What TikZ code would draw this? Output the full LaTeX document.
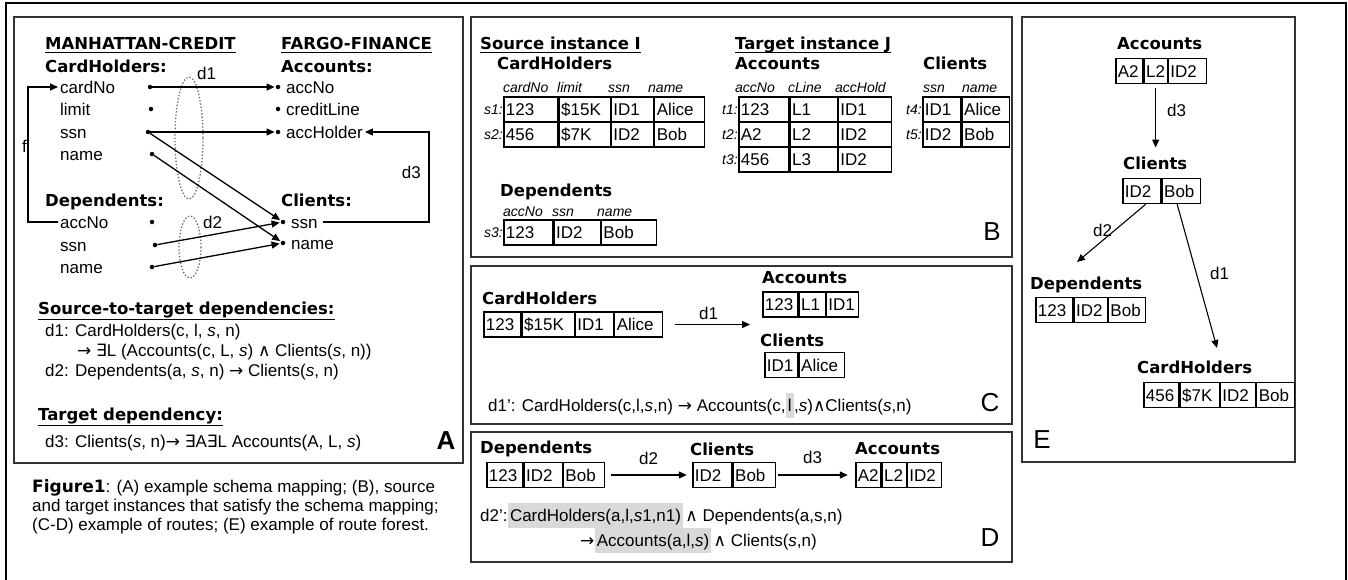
\documentclass[tikz,border=0pt]{standalone}
\usepackage{fontspec}
\setmainfont{Liberation Sans}
\newfontfamily\hdfam{DejaVu Sans}
\newfontfamily\symfam{DejaVu Sans}
\usetikzlibrary{arrows.meta,calc}
\newcommand{\ftx}{\fontsize{17}{20}\selectfont}
\newcommand{\fhd}{\hdfam\bfseries\fontsize{16.5}{20}\selectfont}
\newcommand{\fith}{\itshape\fontsize{14}{16}\selectfont}
\newcommand{\flab}{\fontsize{26}{30}\selectfont}
\newcommand{\sy}[1]{{\symfam #1}}
\newcommand{\cellrow}[3]{%
  \node[inner sep=0pt, minimum size=0pt] (#1-0) at #2 {};
  \foreach \cw/\ct [count=\ci] in {#3}{%
    \pgfmathtruncatemacro{\cj}{\ci-1}%
    \pgfmathsetmacro{\ctw}{\cw-4}%
    \node[cell, text width=\ctw pt, anchor=west] (#1-\ci) at (#1-\cj.east) {\ct};
  }%
}
\begin{document}
\begin{tikzpicture}[x=1pt,y=-1pt,
 tx/.style={font=\ftx, inner sep=0pt, anchor=west, text height=12pt, text depth=0pt},
 hd/.style={font=\fhd, inner sep=0pt, anchor=west, text height=12.5pt, text depth=0pt},
 ith/.style={font=\fith, inner sep=0pt, anchor=west, text height=10pt, text depth=0pt},
 cell/.style={draw, line width=1.3pt, minimum height=25pt, inner xsep=2pt, inner ysep=0pt, font=\ftx, align=left, text height=12pt, text depth=0pt},
 arr/.style={-{Triangle[length=8pt,width=7pt]}, line width=1.3pt},
 panel/.style={draw=black!80, line width=2pt},
 dot/.style={circle, fill, inner sep=0pt, minimum size=4.5pt},
 ul/.style={line width=1.4pt},
 hl/.style={fill=black!15, inner xsep=2pt, inner ysep=4pt, text height=14pt, text depth=3pt, font=\ftx},
 lab/.style={font=\flab, inner sep=0pt},
 ell/.style={dotted, line width=1.3pt, black!60}
]
\useasboundingbox (0,0) rectangle (1348,579);
\fill[white] (0,0) rectangle (1348,579);
\draw[line width=1.5pt] (6,3) rectangle (1346,640);
% panels
\draw[panel] (14,17) rectangle (463,463);
\draw[panel] (471,17) rectangle (1012,257);
\draw[panel] (471,266) rectangle (1012,424);
\draw[panel] (471,432) rectangle (1012,562);
\draw[panel] (1022,17) rectangle (1295,462);

% ---------------- Panel A ----------------
\node[hd] (mc) at (45,43) {MANHATTAN-CREDIT};
\node[hd] (ff) at (281,43) {FARGO-FINANCE};
\draw[ul] ([yshift=-3pt]mc.base west) -- ([yshift=-3pt]mc.base east);
\draw[ul] ([yshift=-3pt]ff.base west) -- ([yshift=-3pt]ff.base east);
\node[hd] (chA) at (45,66) {CardHolders:};
\node[hd] (acA) at (281,66) {Accounts:};
\node[tx] (cardno) at (60,87) {cardNo};
\node[tx] (limit) at (60,109) {limit};
\node[tx] (ssnA) at (60,132) {ssn};
\node[tx] (nameA) at (60,154) {name};
\node[dot] (dcard) at (150,87) {};
\node[dot] (dlimit) at (151,109) {};
\node[dot] (dssn) at (148,132) {};
\node[dot] (dname) at (152,154) {};
\node[dot] (daccno) at (278,87) {};
\node[dot] (dcredit) at (278,109) {};
\node[dot] (dacch) at (278,132) {};
\node[tx] (accno) at (286,87) {accNo};
\node[tx] (credit) at (286,109) {creditLine};
\node[tx] (acch) at (286,132) {accHolder};
\node[hd] (depA) at (45,200) {Dependents:};
\node[hd] (clA) at (281,200) {Clients:};
\node[tx] (daccT) at (60,222) {accNo};
\node[tx] (dssnT) at (60,245) {ssn};
\node[tx] (dnameT) at (60,267) {name};
\node[dot] (ddacc) at (152,222) {};
\node[dot] (ddssn) at (155,245) {};
\node[dot] (ddname) at (152,267) {};
\node[dot] (dcssn) at (283,222) {};
\node[dot] (dcname) at (283,243) {};
\node[tx] (cssn) at (291,222) {ssn};
\node[tx] (cname) at (291,243) {name};
\draw[ell] (189,138) ellipse [x radius=14, y radius=61];
\draw[ell] (190,247) ellipse [x radius=11, y radius=31];
\node[tx] (d1A) at (197,73) {d1};
\node[tx] (d2A) at (203,222) {d2};
\draw[arr, shorten >=1pt] (dcard) -- (daccno);
\draw[arr, shorten >=1pt] (dssn) -- (dacch);
\draw[arr, shorten >=1pt] (dssn) -- (dcssn);
\draw[arr, shorten >=1pt] (dname) -- (dcname);
\draw[arr, shorten >=1pt] (ddssn) -- (dcssn);
\draw[arr, shorten >=1pt] (ddname) -- (dcname);
\draw[arr, line width=1.2pt] ([xshift=-2pt]daccT.west) -- ++(-30,0) |- ([xshift=-2pt]cardno.west);
\node[tx, anchor=east] (fA) at (27,146) {f};
\coordinate (d3x) at (424,0);
\draw[arr, line width=1.2pt] ([xshift=5pt]cssn.east) -- ([xshift=5pt]cssn.east -| d3x) |- ([xshift=2pt]acch.east);
\node[tx, anchor=east] (d3A) at (421,172) {d3};
% dependencies
\node[hd] (stt) at (38,308) {Source-to-target dependencies:};
\draw[ul] ([yshift=-5pt]stt.base west) -- ([yshift=-5pt]stt.base east);
\node[tx] (fa1) at (45,330) {d1: CardHolders(c, l, \textit{s}, n)};
\node[tx] (fa2) at (77,350) {\sy{→} \sy{∃}L (Accounts(c, L, \textit{s}) \sy{∧} Clients(\textit{s}, n))};
\node[tx] (fa3) at (45,370) {d2: Dependents(a, \textit{s}, n) \sy{→} Clients(\textit{s}, n)};
\node[hd] (tdp) at (38,414) {Target dependency:};
\draw[ul] ([yshift=-5pt]tdp.base west) -- ([yshift=-5pt]tdp.base east);
\node[tx] (fa4) at (45,441) {d3: Clients(\textit{s}, n)\sy{→} \sy{∃}A\sy{∃}L Accounts(A, L, \textit{s})};
\node[lab, font=\flab\bfseries] (labA) at (446,441) {A};
% caption
\node[tx] (cap1) at (32,486) {{\hdfam\bfseries Figure1}: (A) example schema mapping; (B), source};
\node[tx] (cap2) at (32,505) {and target instances that satisfy the schema mapping;};
\node[tx] (cap3) at (32,524) {(C-D) example of routes; (E) example of route forest.};

% ---------------- Panel B ----------------
\node[hd] (sii) at (480,43) {Source instance I};
\draw[ul] ([yshift=-3pt]sii.base west) -- ([yshift=-3pt]sii.base east);
\node[hd] (chB) at (497,63) {CardHolders};
\node[ith] (hB1) at (503,87) {cardNo};
\node[ith] (hB2) at (557,87) {limit};
\node[ith] (hB3) at (608,87) {ssn};
\node[ith] (hB4) at (648,87) {name};
\cellrow{bc1}{(503,109.5)}{54/123,51/\$15K,42/ID1,50/Alice}
\cellrow{bc2}{(503,134.5)}{54/456,51/\$7K,42/ID2,50/Bob}
\node[ith, anchor=east] (s1) at (503,109.5) {s1:};
\node[ith, anchor=east] (s2) at (503,134.5) {s2:};
\node[hd] (depB) at (500,190) {Dependents};
\node[ith] (hB5) at (503,211) {accNo};
\node[ith] (hB6) at (552,211) {ssn};
\node[ith] (hB7) at (597,211) {name};
\cellrow{bd1}{(503,232.5)}{49/123,46/ID2,55/Bob}
\node[ith, anchor=east] (s3) at (503,232.5) {s3:};
\node[hd] (tij) at (735,43) {Target instance J};
\draw[ul] ([yshift=-3pt]tij.base west) -- ([yshift=-3pt]tij.base east);
\node[hd] (acB) at (735,63) {Accounts};
\node[ith] (hB8) at (735,87) {accNo};
\node[ith] (hB9) at (788,87) {cLine};
\node[ith] (hB10) at (835,87) {accHold};
\cellrow{ba1}{(738,109.5)}{50/123,47/L1,53/ID1}
\cellrow{ba2}{(738,134.5)}{50/A2,47/L2,53/ID2}
\cellrow{ba3}{(738,159.5)}{50/456,47/L3,53/ID2}
\node[ith, anchor=east] (t1) at (738,109.5) {t1:};
\node[ith, anchor=east] (t2) at (738,134.5) {t2:};
\node[ith, anchor=east] (t3) at (738,159.5) {t3:};
\node[hd] (clB) at (923,63) {Clients};
\node[ith] (hB11) at (923,87) {ssn};
\node[ith] (hB12) at (962,87) {name};
\cellrow{bl1}{(922,109.5)}{38/ID1,47/Alice}
\cellrow{bl2}{(922,134.5)}{38/ID2,47/Bob}
\node[ith, anchor=east] (t4) at (922,109.5) {t4:};
\node[ith, anchor=east] (t5) at (922,134.5) {t5:};
\node[lab] (labB) at (992,232) {B};

% ---------------- Panel C ----------------
\node[hd] (chC) at (482,298) {CardHolders};
\cellrow{cc}{(483,324.5)}{37/123,52/\$15K,38/ID1,48/Alice}
\node[hd] (acC) at (762,277) {Accounts};
\cellrow{ca}{(762,304.5)}{35/123,26/L1,32/ID1}
\node[hd] (clC) at (760,340) {Clients};
\cellrow{cl}{(764,365)}{33/ID1,45/Alice}
\draw[arr, shorten <=12pt, shorten >=12pt] (cc-4.east) -- (cc-4.east -| ca-0);
\node[tx] (d1C) at (699,313) {d1};
\node[tx, anchor=base west] (fc1) at (488,411) {d1': CardHolders(c,l,\textit{s},n) \sy{→} Accounts(c,};
\node[hl, anchor=base west] (fc2) at (fc1.base east) {l};
\node[tx, anchor=base west] (fc3) at (fc2.base east) {,\textit{s})\sy{∧}Clients(\textit{s},n)};
\node[lab] (labC) at (990,403) {C};

% ---------------- Panel D ----------------
\node[hd] (depD) at (480,447) {Dependents};
\cellrow{dd}{(486,475)}{36/123,38/ID2,41/Bob}
\node[hd] (clD) at (690,449) {Clients};
\cellrow{dc}{(692,475)}{39/ID2,42/Bob}
\node[hd] (acD) at (855,448) {Accounts};
\cellrow{da}{(855,475)}{25/A2,24/L2,34/ID2}
\draw[arr, shorten <=6pt, shorten >=5pt] (dd-3.east) -- (dc-0);
\node[tx] (d2D) at (639,458) {d2};
\draw[arr, shorten <=2pt, shorten >=7pt] (dc-2.east) -- (da-0);
\node[tx] (d3D) at (803,457) {d3};
\node[tx, anchor=base west] (fd1) at (480,521) {d2':\hspace{5pt}};
\node[hl, anchor=base west] (fd2) at (fd1.base east) {CardHolders(a,l,\textit{s}1,n1)};
\node[tx, anchor=base west] (fd3) at (fd2.base east) {\hspace{2pt}\sy{∧} Dependents(a,s,n)};
\node[tx, anchor=base west] (fd4) at (580,546) {\sy{→}\hspace{5pt}};
\node[hl, anchor=base west] (fd5) at (fd4.base east) {Accounts(a,l,\textit{s})};
\node[tx, anchor=base west] (fd6) at (fd5.base east) {\hspace{2pt}\sy{∧} Clients(\textit{s},n)};
\node[lab] (labD) at (990,538) {D};

% ---------------- Panel E ----------------
\node[hd] (acE) at (1117,43) {Accounts};
\cellrow{ea}{(1115,71)}{27/A2,23/L2,38/ID2}
\node[hd] (clE) at (1123,163) {Clients};
\cellrow{ec}{(1122,191)}{38/ID2,38/Bob}
\node[hd] (depE) at (1030,283) {Dependents};
\cellrow{ed}{(1035,310)}{37/123,33/ID2,37/Bob}
\node[hd] (chE) at (1137,367) {CardHolders};
\cellrow{eh}{(1143,395)}{35/456,39/\$7K,35/ID2,38/Bob}
\draw[arr, shorten <=4pt, shorten >=9pt] (ea-2.south) -- (ea-2.south |- clE.north);
\node[tx] (d3E) at (1167,110) {d3};
\coordinate (e2end) at (1077,262);
\coordinate (e1end) at (1217,348);
\draw[arr, line width=1.1pt] ([xshift=4pt]ec-1.south) -- (e2end);
\node[tx] (d2E) at (1093,230) {d2};
\draw[arr, line width=1.1pt] ([xshift=-4pt]ec-2.south) -- (e1end);
\node[tx] (d1E) at (1210,273) {d1};
\node[lab] (labE) at (1042,440) {E};
\end{tikzpicture}
\end{document}
